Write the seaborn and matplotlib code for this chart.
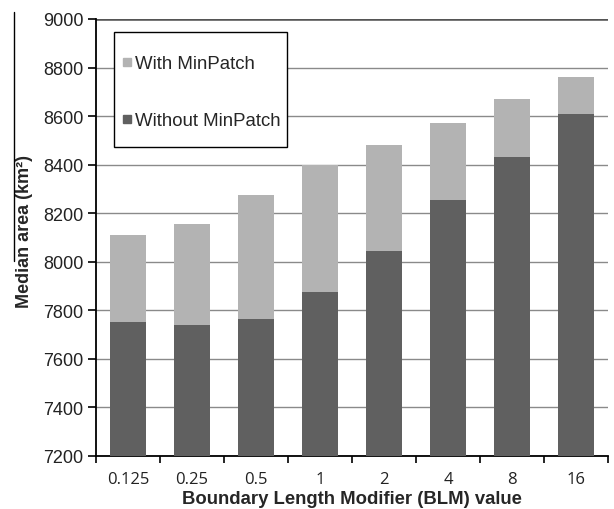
import pandas as pd
import matplotlib
matplotlib.use("Agg")
import matplotlib.pyplot as plt
import seaborn as sns
from matplotlib.lines import Line2D
from matplotlib.patches import Rectangle

# --- DATA ---
blm_values = ["0.125", "0.25", "0.5", "1", "2", "4", "8", "16"]
with_minpatch = [8110, 8155, 8275, 8400, 8482, 8572, 8672, 8760]
without_minpatch = [7750, 7740, 7763, 7877, 8043, 8253, 8430, 8607]

C_LIGHT = "#b3b3b3"
C_DARK = "#606060"
C_GRID = "#8a8a8a"

sns.set_theme(style="white")
plt.rcParams['font.family'] = ['Liberation Sans', 'DejaVu Sans']

df = pd.DataFrame({"blm": blm_values, "with": with_minpatch, "without": without_minpatch})

fig = plt.figure(figsize=(6.14, 5.10), dpi=100)
ax = fig.add_axes([96 / 614, 1 - 457 / 510, 512 / 614, 437 / 510])

# light bars (with MinPatch) behind, dark bars (without) in front
sns.barplot(data=df, x="blm", y="with", order=blm_values, color=C_LIGHT,
            width=0.56, saturation=1, ax=ax, zorder=3)
sns.barplot(data=df, x="blm", y="without", order=blm_values, color=C_DARK,
            width=0.56, saturation=1, ax=ax, zorder=4)
for p in ax.patches:
    p.set_edgecolor("none")

ax.set_ylim(7200, 9000)
ax.set_xlim(-0.5, len(blm_values) - 0.5)
ax.set_yticks(range(7200, 9001, 200))
ax.yaxis.grid(True, color=C_GRID, linewidth=1.0, zorder=0)
ax.set_axisbelow(True)
ax.axhline(9000, color="#555555", linewidth=1.8, zorder=2)

# category labels centred, tick marks between categories
ax.set_xticks(range(len(blm_values)))
ax.set_xticklabels(blm_values, family=['Open Sans', 'DejaVu Sans'], fontsize=12, color="#222222")
ax.set_xticks([i - 0.5 for i in range(len(blm_values) + 1)], minor=True)
ax.tick_params(axis="x", which="major", length=0, pad=11)
ax.tick_params(axis="x", which="minor", length=5, width=1.2, color="black", direction="out")
ax.tick_params(axis="y", length=6, width=1.2, color="black", direction="out",
               labelsize=13, labelcolor="#222222", pad=3)
ax.tick_params(axis="both", which="both", bottom=True, left=True)

for side in ["top", "right"]:
    ax.spines[side].set_visible(False)
for side in ["left", "bottom"]:
    ax.spines[side].set_color("black")
    ax.spines[side].set_linewidth(1.3)

ax.set_xlabel("Boundary Length Modifier (BLM) value", fontsize=13.3, fontweight="bold")
ax.set_ylabel("Median area (km²)", fontsize=13, fontweight="bold")
ax.xaxis.label.set_va("top")
ax.xaxis.set_label_coords(0.5, -0.077)
ax.yaxis.label.set_va("center")
ax.yaxis.set_label_coords(-0.140, 0.517)

# legend: entries without frame, box drawn separately (Excel-style padding)
handles = [Line2D([], [], marker="s", linestyle="none", markersize=5.8, color=C_LIGHT),
           Line2D([], [], marker="s", linestyle="none", markersize=5.8, color=C_DARK)]
leg = ax.legend(handles, ["With MinPatch", "Without MinPatch"], loc="upper left",
                bbox_to_anchor=(26 / 512, (457 - 56) / 437), fontsize=13.4,
                frameon=False, handlelength=0.5, handletextpad=0.2,
                labelspacing=2.17, borderpad=0, borderaxespad=0)
leg.set_zorder(6)
ax.add_patch(Rectangle((18 / 512, (457 - 148) / 437), 173 / 512, 115 / 437,
                       transform=ax.transAxes, facecolor="white", edgecolor="black",
                       linewidth=1.0, zorder=5))

# stray vertical rule at the left edge of the original crop
fig.add_artist(Line2D([14 / 614, 14 / 614], [1 - 262 / 510, 1 - 13 / 510],
                      color="black", linewidth=1.0))

fig.savefig("out.png", dpi=100)
